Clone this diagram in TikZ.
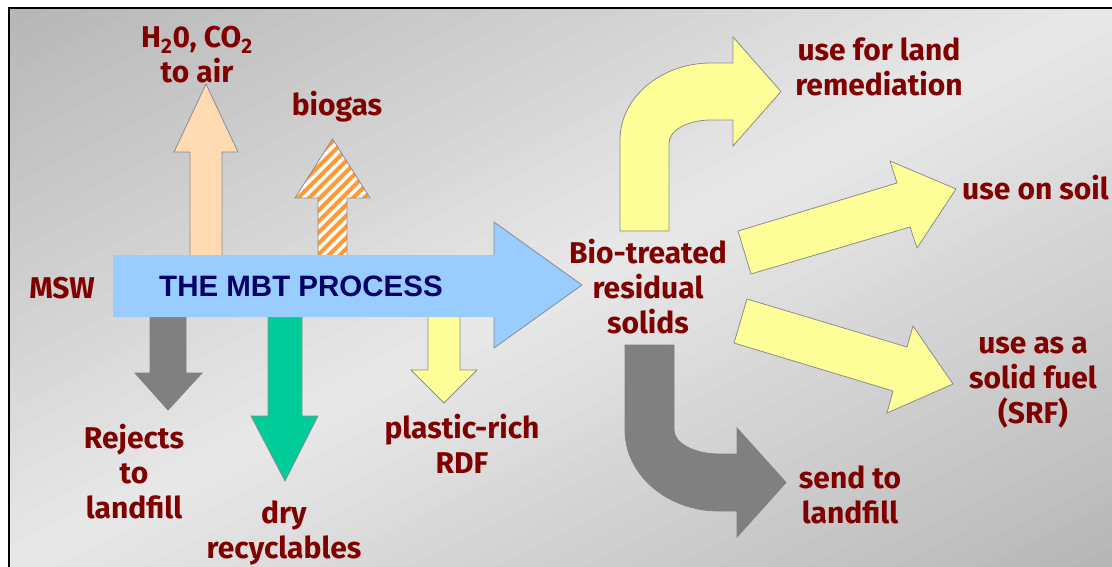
\documentclass[tikz,border=0pt]{standalone}
\usepackage{fontspec}
\setmainfont{Fira Sans}
\newfontfamily\procfont{Liberation Sans}
\definecolor{labelred}{HTML}{800000}
\definecolor{procnavy}{HTML}{000066}
\definecolor{procblue}{HTML}{99CCFF}
\definecolor{airpeach}{HTML}{FFDAB3}
\definecolor{rdfyellow}{HTML}{FFFF99}
\definecolor{recgreen}{HTML}{00CC99}
\definecolor{rejgray}{HTML}{808080}
\definecolor{gasorange}{HTML}{FF9933}
\definecolor{edgegray}{HTML}{8C8C8C}

\begin{document}
\begin{tikzpicture}[x=1pt, y=-1pt,
  lbl/.style={text=labelred, font=\fontsize{30}{35}\selectfont\bfseries, align=center, inner sep=0pt},
  blockedge/.style={draw=edgegray, line width=0.8pt}]
\useasboundingbox (0,0) rectangle (1112,567);
\clip (0,0) rectangle (1112,567);
\begin{scope}
\clip (9,8) rectangle (1112,567);
\begin{scope}[shift={(560.5,287.5)}, rotate=-63.1]
\foreach \t in {-540,-520,...,520}{
  \pgfmathsetmacro\shadepct{18+40*min(abs(\t+10)/510,1)}
  \fill[gray!\shadepct] (\t,-800) rectangle (\t+21,800);
}
\end{scope}
\end{scope}
\draw[line width=2pt] (9,567) -- (9,8) -- (1112,8);

\filldraw[fill=airpeach, blockedge] (190,270) -- (190,152) -- (174,152) -- (206,84) -- (238,152) -- (222,152) -- (222,270) -- cycle;
\fill[white] (318,270) -- (318,198) -- (295,198) -- (332.5,139) -- (370,198) -- (347,198) -- (347,270) -- cycle;
\begin{scope}
\clip (318,270) -- (318,198) -- (295,198) -- (332.5,139) -- (370,198) -- (347,198) -- (347,270) -- cycle;
\foreach \k in {0,...,20}
  \draw[gasorange, line width=4pt] (160+\k*11,270) -- ++(140,-140);
\end{scope}
\draw[blockedge] (318,270) -- (318,198) -- (295,198) -- (332.5,139) -- (370,198) -- (347,198) -- (347,270);

\filldraw[fill=rejgray, draw=rejgray, line width=0.8pt] (150,300) -- (150,373) -- (135,373) -- (168,410) -- (202,373) -- (186,373) -- (186,300) -- cycle;
\filldraw[fill=recgreen, blockedge] (268,300) -- (268,416) -- (251,416) -- (285,481) -- (318,416) -- (302,416) -- (302,300) -- cycle;
\filldraw[fill=rdfyellow, blockedge] (428,300) -- (428,370) -- (411,370) -- (444,403) -- (477,370) -- (460,370) -- (460,300) -- cycle;

\fill[procblue] (113,255) -- (494,255) -- (494,222) -- (582,285) -- (494,348) -- (494,317) -- (113,317) -- cycle;
\draw[blockedge] (494,255) -- (494,222) -- (582,285) -- (494,348) -- (494,317);

\filldraw[fill=rdfyellow, blockedge] (620,231) -- (620,140) .. controls (620,97.5) and (660.8,63) .. (711,63) -- (733,63) -- (733,37) -- (781,91.5) -- (733,146) -- (733,120) -- (711,120) .. controls (687.8,120) and (669,130.3) .. (669,143) -- (669,231) -- cycle;
\filldraw[fill=rdfyellow, blockedge] (738,231) -- (897,183) -- (890,161) -- (956,189) -- (917,248) -- (910,227) -- (751,274) -- cycle;
\filldraw[fill=rdfyellow, blockedge] (747,299) -- (907,347) -- (913,326) -- (953,384) -- (887,413) -- (893,391) -- (734,343) -- cycle;
\filldraw[fill=rejgray, draw=rejgray, line width=0.8pt] (625,345) -- (625,430) .. controls (625,474.7) and (667.1,511) .. (719,511) -- (737,511) -- (737,537) -- (786,482.5) -- (737,428) -- (737,454) -- (719,454) .. controls (694.2,454) and (674,443.2) .. (674,430) -- (674,345) -- cycle;

\node[text=procnavy, font=\procfont\fontsize{29.5}{34}\selectfont\bfseries, inner sep=0pt] (process) at (301,286) {THE MBT PROCESS};
\node[lbl] (msw) at (62,288) {MSW};
\node[lbl] (air) at (197,55) {H\textsubscript{2}0, CO\textsubscript{2}\\to air};
\node[lbl] (biogas) at (337,107) {biogas};
\node[lbl] (rejects) at (134,472) {Rejects\\to\\landfill};
\node[lbl] (dry) at (284,533) {dry\\recyclables};
\node[lbl] (rdf) at (462,444) {plastic-rich\\RDF};
\node[lbl] (residue) at (648,287) {Bio-treated\\residual\\solids};
\node[lbl] (remediation) at (879,67) {use for land\\remediation};
\node[lbl, anchor=west] (soil) at (962,188) {use on soil};
\node[lbl] (fuel) at (1033,383) {use as a\\solid fuel\\(SRF)};
\node[lbl] (landfill) at (850,495) {send to\\landfill};
\end{tikzpicture}
\end{document}
